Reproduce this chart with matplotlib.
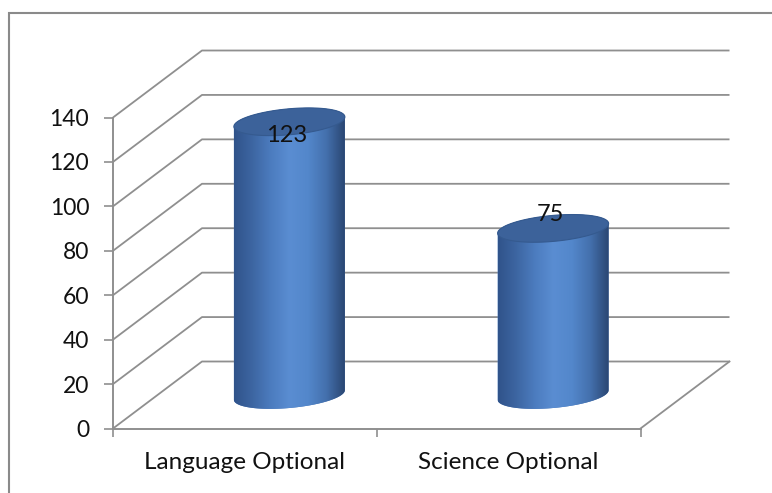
import numpy as np
import matplotlib
matplotlib.use('Agg')
import matplotlib.pyplot as plt
from matplotlib.patches import Polygon, Rectangle
from matplotlib.colors import LinearSegmentedColormap

categories = ['Language Optional', 'Science Optional']
counts = [123, 75]
yticks = [0, 20, 40, 60, 80, 100, 120, 140]

plt.rcParams['font.family'] = ['Lato', 'DejaVu Sans']

W, H = 772, 493
fig = plt.figure(figsize=(W / 100, H / 100), dpi=100)

# pixel geometry of the front plane: x in category units, y in value units
x0_px, y0_px = 113.0, 428.5
px_x = 263.75          # pixels per category
px_y = 2.2214          # pixels per unit value
xlim = (-0.4, 2.49)
ylim = (-20, 180)
left = x0_px + xlim[0] * px_x
right = x0_px + xlim[1] * px_x
top = y0_px - ylim[1] * px_y
bottom = y0_px - ylim[0] * px_y
ax = fig.add_axes([left / W, (H - bottom) / H, (right - left) / W, (bottom - top) / H])
ax.set_xlim(*xlim)
ax.set_ylim(*ylim)
ax.patch.set_visible(False)

# oblique depth offset of the back wall
dx = 89 / px_x
dy = 67 / px_y
grid_c = '#8f8f8f'

for v in yticks:
    ax.plot([0, dx, 2 + dx], [v, v + dy, v + dy], color=grid_c, lw=1.3, zorder=1,
            solid_capstyle='butt')
ax.plot([2, 2 + dx], [0, dy], color=grid_c, lw=1.3, zorder=1)

# cylinders
body_cmap = LinearSegmentedColormap.from_list(
    'cyl', ['#30538a', '#3d66a2', '#4c7cbf', '#5a8dd2', '#5387cb', '#4470ad', '#2a4672'])
a = 55.5 / px_x
b = 13.0 / px_y
s = 4.8 / px_y
t = np.linspace(0, 2 * np.pi, 200)

def ellipse(cx, cy, tt):
    return np.column_stack([cx + a * np.cos(tt), cy + b * np.sin(tt) + s * np.cos(tt)])

for i, (cat, val) in enumerate(zip(categories, counts)):
    cx = i + 0.5 + dx / 2
    base = dy / 2
    ytop = base + val
    lower = ellipse(cx, base, np.linspace(np.pi, 2 * np.pi, 100))
    upper = ellipse(cx, ytop, np.linspace(0, np.pi, 100))
    body = Polygon(np.vstack([lower, upper]), closed=True, fc='#4a78b8', ec='none', zorder=3)
    ax.add_patch(body)
    grad = np.linspace(0, 1, 256)[np.newaxis, :]
    im = ax.imshow(grad, extent=(cx - a, cx + a, base - b - s - 1, ytop + b + s + 1),
                   cmap=body_cmap, aspect='auto', zorder=3, interpolation='bilinear')
    im.set_clip_path(body)
    cap = Polygon(ellipse(cx, ytop, t), closed=True, fc='#3c629a', ec='#355a8f', lw=0.8, zorder=4)
    ax.add_patch(cap)

    off = -10 if i == 0 else 10
    ax.annotate(str(val), (cx - 0.01, ytop), xytext=(0, off), textcoords='offset points',
                ha='center', va='center', fontsize=17, color='#111111', zorder=5)

ax.set_xlim(*xlim)
ax.set_ylim(*ylim)

# front axes
for side in ['top', 'right']:
    ax.spines[side].set_visible(False)
ax.spines['left'].set_position(('data', 0))
ax.spines['left'].set_bounds(0, 140)
ax.spines['bottom'].set_position(('data', 0))
ax.spines['bottom'].set_bounds(0, 2)
for side in ['left', 'bottom']:
    ax.spines[side].set_color(grid_c)
    ax.spines[side].set_linewidth(1.4)

ax.set_yticks(yticks)
ax.tick_params(axis='y', direction='out', length=6.2, width=1.2, color=grid_c, pad=11,
               labelsize=16.5, labelcolor='#111111')
ax.set_xticks([0, 1, 2])
ax.set_xticklabels([])
ax.tick_params(axis='x', which='major', direction='out', length=6, width=1.2, color=grid_c)
ax.set_xticks([0.5, 1.5], minor=True)
ax.set_xticklabels(categories, minor=True)
ax.tick_params(axis='x', which='minor', length=0, pad=17, labelsize=17.5, labelcolor='#111111')

# chart area border
fig.add_artist(Rectangle((9 / W, -0.2), 1.2, (H - 13) / H + 0.2, transform=fig.transFigure,
                         fill=False, ec='#8a8a8a', lw=1.5))

fig.savefig('out.png', dpi=100)
